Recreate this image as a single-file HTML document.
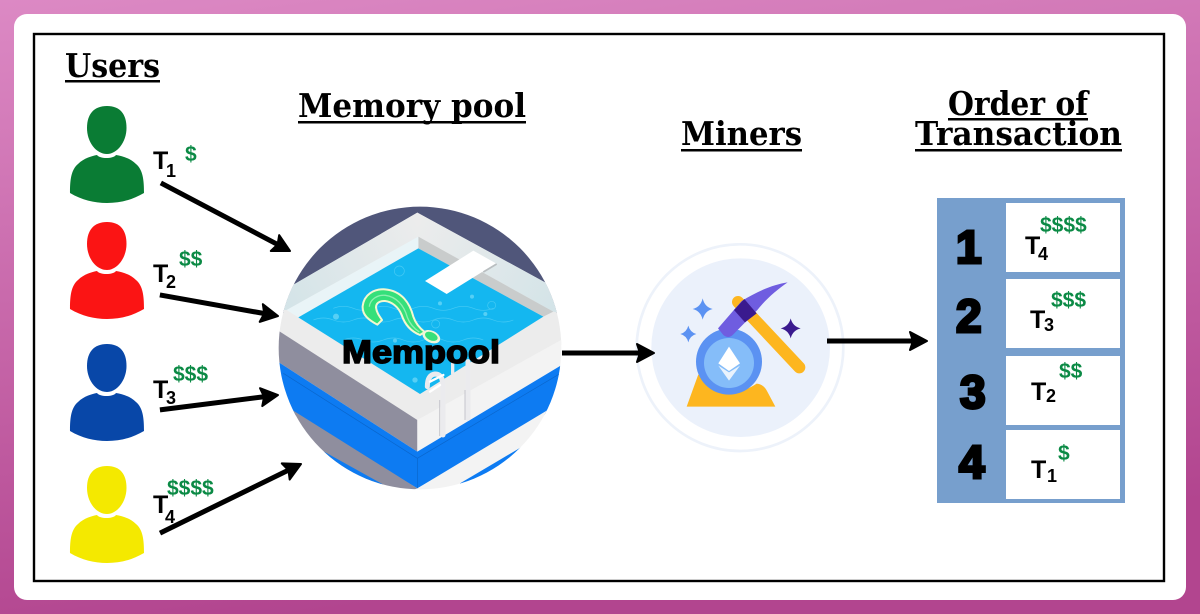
<!DOCTYPE html>
<html><head><meta charset="utf-8"><style>
html,body{margin:0;padding:0;width:1200px;height:614px;overflow:hidden}
svg{display:block}
.h{font-family:"DejaVu Serif","Liberation Serif",serif;font-weight:700;font-size:33px;fill:#000}
.t{font-family:"Liberation Sans",sans-serif;font-weight:700;font-size:25px;fill:#000}
.s{font-family:"Liberation Sans",sans-serif;font-weight:700;font-size:18px;fill:#000}
.d{font-family:"Liberation Sans",sans-serif;font-weight:700;font-size:21px;fill:#0b8a45}
.n{font-family:"Liberation Sans",sans-serif;font-weight:700;font-size:46px;fill:#000;stroke:#000;stroke-width:3}
</style></head><body>
<svg width="1200" height="614" viewBox="0 0 1200 614" xmlns="http://www.w3.org/2000/svg">
<defs>
<linearGradient id="bg" x1="0" y1="0" x2="0.25" y2="1"><stop offset="0" stop-color="#dc89c4"/><stop offset="1" stop-color="#b2458f"/></linearGradient>
<linearGradient id="rr" gradientUnits="userSpaceOnUse" x1="442" y1="60" x2="860" y2="300"><stop offset="0" stop-color="#ececec"/><stop offset="1" stop-color="#d4e4e8"/></linearGradient>
<linearGradient id="rl" gradientUnits="userSpaceOnUse" x1="442" y1="60" x2="50" y2="300"><stop offset="0" stop-color="#ececec"/><stop offset="1" stop-color="#d4e4e8"/></linearGradient>
<clipPath id="pc"><circle cx="450" cy="444" r="424"/></clipPath>
<g id="p"><path d="M107 106 C120 106 126.5 114 126.5 128 C126.5 142 117 154 107 154 C96 154 87 142 87 128 C87 114 94 106 107 106 Z"/><path d="M70 193 C70 180 71 170 78 164 C84 158 92 156 97 155 C100 159 113 159 116 155 C122 156 130 158 136 164 C143 170 144 180 144 193 C132 200 120 203 107 203 C94 203 82 200 70 193 Z"/></g>
<g id="ah"><path d="M-17 -9 L0 0 L-17 9 L-14 0 Z" fill="#000" stroke="#000" stroke-width="2" stroke-linejoin="round"/></g>
</defs>
<rect width="1200" height="614" fill="url(#bg)"/>
<rect x="14" y="14" width="1172" height="586" rx="13" fill="#fff"/>
<rect x="34" y="34" width="1130" height="547" fill="none" stroke="#000" stroke-width="2.4"/>

<!-- headings -->
<text class="h" x="65" y="77" textLength="95" lengthAdjust="spacingAndGlyphs">Users</text>
<rect x="65" y="80" width="95" height="2.5"/>
<text class="h" x="298" y="117" textLength="228" lengthAdjust="spacingAndGlyphs">Memory pool</text>
<rect x="298" y="121" width="228" height="2.5"/>
<text class="h" x="681" y="145" textLength="121" lengthAdjust="spacingAndGlyphs">Miners</text>
<rect x="681" y="149" width="121" height="2.5"/>
<text class="h" x="948" y="115" textLength="140" lengthAdjust="spacingAndGlyphs">Order of</text>
<rect x="948" y="118" width="140" height="2.5"/>
<text class="h" x="915" y="145" textLength="207" lengthAdjust="spacingAndGlyphs">Transaction</text>
<rect x="915" y="149" width="207" height="2.5"/>

<!-- users -->
<use href="#p" fill="#0a7c34"/>
<use href="#p" y="116" fill="#fb1414"/>
<use href="#p" y="238" fill="#0847a8"/>
<use href="#p" y="360" fill="#f4e900"/>

<text class="t" x="153" y="169">T</text><text class="s" x="166" y="177">1</text><text class="d" x="185" y="161">$</text>
<text class="t" x="153" y="282">T</text><text class="s" x="166" y="288">2</text><text class="d" x="179" y="266">$$</text>
<text class="t" x="153" y="398">T</text><text class="s" x="166" y="404">3</text><text class="d" x="173" y="381">$$$</text>
<text class="t" x="153" y="513">T</text><text class="s" x="165" y="523">4</text><text class="d" x="167" y="495">$$$$</text>

<!-- mempool -->
<g transform="translate(270 200) scale(.33333)">
<g clip-path="url(#pc)">
<rect x="0" y="0" width="900" height="900" fill="#fff"/>
<rect x="0" y="0" width="900" height="340" fill="#50567a"/>
<polygon points="442,38 900,288 900,420 442,660 0,380 0,295" fill="#ececec"/>
<polygon points="442,38 900,288 900,345 850,335 445,110" fill="url(#rr)"/>
<polygon points="442,38 445,110 50,330 0,330 0,295" fill="url(#rl)"/>
<polygon points="445,110 850,335 820,350 445,145" fill="#c9cccc"/>
<polygon points="445,110 445,145 85,352 50,330" fill="#e9f4f7"/>
<polygon points="445,145 820,350 450,582 85,352" fill="#14b7f0"/>
<g fill="none" stroke="#5dd3f7" stroke-width="2" opacity=".7">
<path d="M190 325 q30 -12 60 0 t60 0 t60 0 t60 0 t60 0 t60 0 t60 0 t60 0"/>
<path d="M130 360 q30 -12 60 0 t60 0 t60 0 t60 0 t60 0 t60 0 t60 0 t60 0 t60 0 t60 0"/>
<path d="M220 420 q30 -12 60 0 t60 0 t60 0 t60 0 t60 0 t60 0 t60 0"/>
<circle cx="388" cy="213" r="15"/><circle cx="665" cy="316" r="12"/><circle cx="497" cy="372" r="12"/>
</g>
<g fill="#56cff5"><circle cx="198" cy="350" r="9"/><circle cx="510" cy="310" r="6"/><circle cx="606" cy="290" r="6"/><circle cx="646" cy="342" r="6"/><circle cx="435" cy="540" r="8"/><circle cx="375" cy="422" r="6"/></g>
<polygon points="0,376 442,660 442,755 0,470" fill="#8f8e9e"/>
<polygon points="442,660 900,405 900,480 442,755" fill="#f3f3f3"/>
<polygon points="0,470 442,755 900,480 900,600 442,865 0,600" fill="#0d7bf2"/>
<path d="M40 520 L442 775 L880 515 M442 775 V865" stroke="#0a66cc" stroke-width="2" fill="none"/>
<polygon points="0,588 442,865 360,900 0,660" fill="#8f8e9e"/>
<polygon points="135,740 360,865 360,900 135,800" fill="#0d7bf2"/>
<polygon points="442,865 900,590 900,700 560,900 440,900" fill="#f3f3f3"/>
<polygon points="570,850 765,735 765,800 570,900" fill="#0d7bf2"/>
<polygon points="465,243 610,152 678,190 530,282" fill="#fff"/>
<line x1="680" y1="192" x2="640" y2="216" stroke="#b9bec0" stroke-width="5"/>
<g fill="none" stroke="#ebebee" stroke-width="15" stroke-linecap="round">
<path d="M519 705 V560 Q519 522 495 522 Q472 525 472 560"/>
<path d="M594 655 V485"/>
<path d="M548 490 V520" stroke-width="10"/>
<path d="M480 545 L520 525 M480 575 L510 555" stroke="#fff" stroke-width="7"/>
</g>
<line x1="509" y1="600" x2="509" y2="708" stroke="#c6c6cc" stroke-width="3"/>
<line x1="585" y1="570" x2="585" y2="660" stroke="#c6c6cc" stroke-width="3"/>
<path d="M278 318 C282 285 310 266 345 268 C395 272 420 310 430 350 C436 368 450 385 464 396 L450 405 C425 395 405 375 395 345 C385 320 365 305 345 303 C328 302 318 310 318 322 C320 338 328 348 336 360 L322 374 C296 360 276 345 278 318 Z" fill="#35e07a" stroke="#f3f8d0" stroke-width="6" stroke-linejoin="round"/>
<path d="M298 320 C300 298 322 284 346 286 C378 290 402 315 412 352 C418 368 432 385 448 396" fill="none" stroke="#8ff0b0" stroke-width="4"/>
<ellipse cx="484" cy="410" rx="28" ry="18" transform="rotate(25 484 410)" fill="#f0f6d8"/>
<ellipse cx="484" cy="409" rx="20" ry="12" transform="rotate(25 484 409)" fill="#35e07a"/>
</g>
</g>
<text x="342" y="363" textLength="158" lengthAdjust="spacingAndGlyphs" font-family="Liberation Sans, sans-serif" font-weight="700" font-size="32" fill="#000" stroke="#000" stroke-width="1.5">Mempool</text>

<!-- miner -->
<g transform="translate(630 235) scale(.33333)">
<circle cx="330" cy="338" r="310" fill="#fff" stroke="#edf2fa" stroke-width="8"/>
<circle cx="332" cy="338" r="268" fill="#ebf1fb"/>
<path d="M170 515 L205 418 Q240 465 300 472 Q345 470 380 446 Q402 448 412 470 L436 515 Z" fill="#fdb61f"/>
<circle cx="297" cy="380" r="99" fill="#5b92f2"/>
<circle cx="297" cy="384" r="75" fill="#85bdf9"/>
<polygon points="297,335 330,385 297,408 265,385" fill="#fff"/>
<polygon points="265,392 297,412 330,392 297,437" fill="#e9f3fd"/>
<line x1="324" y1="201" x2="508" y2="397" stroke="#fdb61f" stroke-width="36" stroke-linecap="round"/>
<path d="M264 280 L335 198 C380 170 430 148 473 142 C440 165 410 190 382 225 L308 300 Q295 312 280 300 Z" fill="#6f5de0"/>
<polygon points="343,192 380,235 345,262 312,225" fill="#3a1a8e"/>
<path d="M218 190 Q224 216 248 222 Q224 228 218 254 Q212 228 188 222 Q212 216 218 190 Z" fill="#5b92f2"/>
<path d="M175 272 Q180 292 199 297 Q180 302 175 322 Q170 302 151 297 Q170 292 175 272 Z" fill="#5b92f2"/>
<path d="M482 250 Q488 274 512 280 Q488 286 482 310 Q476 286 452 280 Q476 274 482 250 Z" fill="#3a1a8e"/>
</g>

<!-- arrows -->
<g stroke="#000" stroke-width="5">
<g transform="translate(290 251) rotate(27.8)"><line x1="-146" y1="0" x2="-12" y2="0"/><use href="#ah"/></g>
<g transform="translate(278 316) rotate(10.1)"><line x1="-120" y1="0" x2="-12" y2="0"/><use href="#ah"/></g>
<g transform="translate(278 395) rotate(-7.2)"><line x1="-119" y1="0" x2="-12" y2="0"/><use href="#ah"/></g>
<g transform="translate(301 464) rotate(-26.1)"><line x1="-157" y1="0" x2="-12" y2="0"/><use href="#ah"/></g>
<g transform="translate(654 353)"><line x1="-92" y1="0" x2="-12" y2="0"/><use href="#ah"/></g>
<g transform="translate(927 341)"><line x1="-100" y1="0" x2="-12" y2="0"/><use href="#ah"/></g>
</g>

<!-- table -->
<rect x="937" y="198" width="188" height="305" fill="#779fcd"/>
<g fill="#fff">
<rect x="1006" y="203" width="114" height="69"/>
<rect x="1006" y="279" width="114" height="69"/>
<rect x="1006" y="356" width="114" height="69"/>
<rect x="1006" y="430" width="114" height="69"/>
</g>
<text class="n" x="956" y="263">1</text>
<text class="n" x="956" y="332">2</text>
<text class="n" x="960" y="408">3</text>
<text class="n" x="959" y="478">4</text>

<text class="t" x="1025" y="254">T</text><text class="s" x="1038" y="260">4</text><text class="d" x="1040" y="232">$$$$</text>
<text class="t" x="1030" y="328">T</text><text class="s" x="1044" y="331">3</text><text class="d" x="1051" y="307">$$$</text>
<text class="t" x="1031" y="400">T</text><text class="s" x="1046" y="402">2</text><text class="d" x="1059" y="378">$$</text>
<text class="t" x="1031" y="478">T</text><text class="s" x="1047" y="482">1</text><text class="d" x="1058" y="460">$</text>
</svg>
</body></html>
